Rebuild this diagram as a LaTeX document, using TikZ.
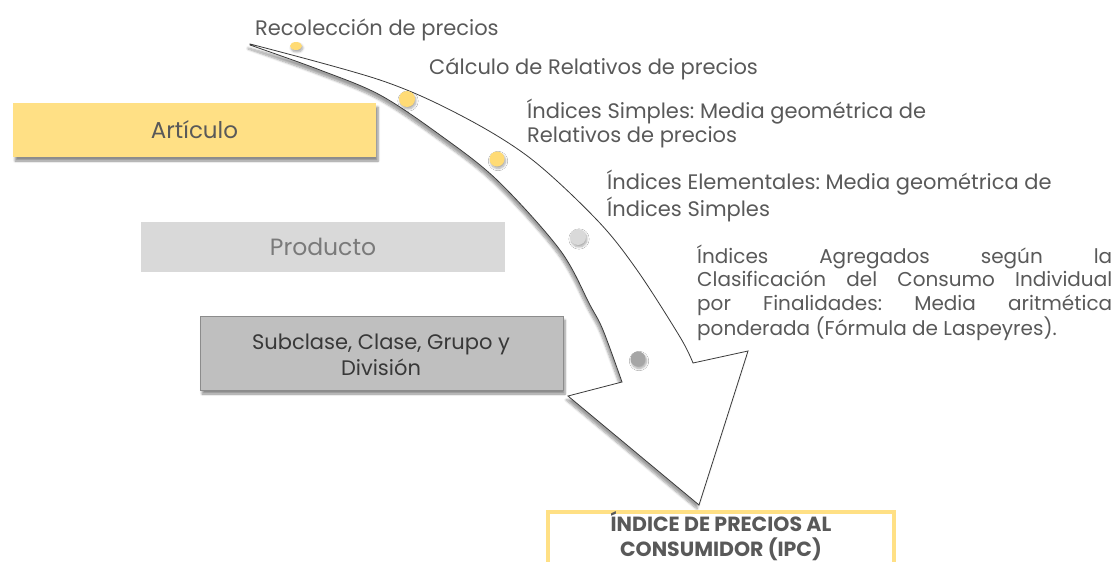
\documentclass[tikz,border=0pt]{standalone}
\usepackage{fontspec}
\setmainfont{Poppins}
\frenchspacing
\usetikzlibrary{shadows.blur,shapes.geometric}
\definecolor{txt}{HTML}{595959}
\definecolor{yel}{HTML}{FFE085}
\definecolor{dotyel}{HTML}{FFDB75}
\definecolor{lgray}{HTML}{D9D9D9}
\definecolor{mgray}{HTML}{BFBFBF}
\definecolor{outl}{HTML}{3A3A3A}
\tikzset{
  lab/.style={anchor=base west, inner sep=0pt, text=txt, align=left,
    font=\fontsize{21}{23.3}\selectfont},
  boxtext/.style={inner sep=0pt, align=center},
  dotstyle/.style={circle, inner sep=0pt, minimum size=15pt,
    blur shadow={shadow xshift=1pt, shadow yshift=-2pt, shadow blur steps=6, shadow opacity=35}},
  shaftstyle/.style={draw=outl, line width=0.8pt, fill=white, line join=miter,
    blur shadow={shadow xshift=-2pt, shadow yshift=-4pt, shadow blur steps=8, shadow opacity=38}},
}
\begin{document}
\begin{tikzpicture}[x=1pt,y=-1pt]
\useasboundingbox (0,0) rectangle (1116,562);
% big curved arrow
\path[shaftstyle]
  plot[smooth, tension=0.55] coordinates {(250,44) (380,80) (460,115) (530,158) (597,220) (637,270) (680,337) (693,363)}
  -- (748,351) -- (699,505) -- (568,396) -- (622,382)
  -- plot[smooth, tension=0.55] coordinates {(622,382) (603,330) (590,305) (560,250) (497,180) (440,135) (380,95) (320,70) (250,45)}
  -- cycle;
% dots
\node[dotstyle, ellipse, minimum width=12pt, minimum height=8pt, fill=dotyel] (d1) at (296,46) {};
\node[dotstyle, fill=dotyel, minimum size=16pt] (d2) at (407,99) {};
\node[dotstyle, fill=dotyel] (d3) at (497,159) {};
\node[dotstyle, fill=lgray, minimum size=16pt] (d4) at (578,237) {};
\node[dotstyle, fill=black!35] (d5) at (638,359) {};
% step labels
\node[lab] (l1) at (255,35) {Recolección de precios};
\node[lab] (l2) at (429,74) {Cálculo de Relativos de precios};
\node[lab] (l3) at (527,142) {Índices Simples: Media geométrica de\\Relativos de precios};
\node[lab] (l4) at (607,216) {Índices Elementales: Media geométrica de\\Índices Simples};
\node[lab, font=\fontsize{20}{23.3}\selectfont] (l5) at (697,335) {\makebox[415pt][s]{Índices Agregados según la}\\
  \makebox[415pt][s]{Clasificación del Consumo Individual}\\
  \makebox[415pt][s]{por Finalidades: Media aritmética}\\
  ponderada (Fórmula de Laspeyres).};
% left boxes
\node[fill=yel, minimum width=363pt, minimum height=54pt, inner sep=0pt,
  blur shadow={shadow xshift=2pt, shadow yshift=-4pt, shadow blur steps=6, shadow opacity=45}]
  (art) at (194.5,130) {};
\node[boxtext, text=txt, font=\fontsize{23}{25}\selectfont] (artt) at (art.center) {Artículo};
\node[fill=lgray, minimum width=364pt, minimum height=50pt, inner sep=0pt] (prod) at (323,247) {};
\node[boxtext, text=black!52, font=\fontsize{23.5}{25}\selectfont] (prodt) at (prod.center) {Producto};
\node[fill=mgray, draw=black!45, line width=0.8pt, minimum width=363pt, minimum height=74pt, inner sep=0pt,
  blur shadow={shadow xshift=2pt, shadow yshift=-4pt, shadow blur steps=6, shadow opacity=45}]
  (sub) at (381.5,353) {};
\node[boxtext, text=black!78, font=\fontsize{21}{26.5}\selectfont] (subt) at (381,355) {Subclase, Clase, Grupo y\\División};
% IPC box
\node[draw=yel, line width=4pt, fill=white, minimum width=346pt, minimum height=80pt, inner sep=0pt, anchor=north]
  (ipc) at (721,510) {};
\node[boxtext, text=txt, font=\bfseries\fontsize{20.5}{24.5}\selectfont] (ipct) at (721,536) {ÍNDICE DE PRECIOS AL\\CONSUMIDOR (IPC)};
\end{tikzpicture}
\end{document}
